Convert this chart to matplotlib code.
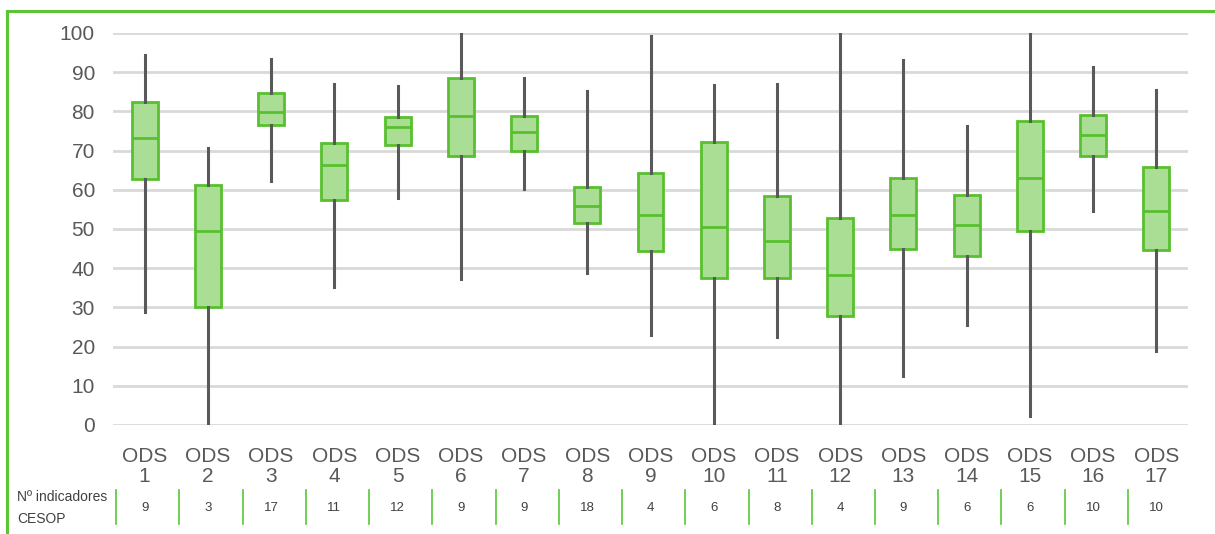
import matplotlib
matplotlib.use("Agg")
import matplotlib.pyplot as plt
from matplotlib.transforms import blended_transform_factory
from matplotlib.lines import Line2D

categories = ["ODS\n1", "ODS\n2", "ODS\n3", "ODS\n4", "ODS\n5", "ODS\n6", "ODS\n7", "ODS\n8", "ODS\n9",
              "ODS\n10", "ODS\n11", "ODS\n12", "ODS\n13", "ODS\n14", "ODS\n15", "ODS\n16", "ODS\n17"]
whisker_low = [28.7, 0.5, 62.3, 35.2, 58.0, 37.3, 60.1, 38.9, 22.9, 0.3, 22.5, 0.3, 12.4, 25.5, 2.3, 54.5, 18.9]
q1 = [62.8, 30.2, 76.5, 57.5, 71.5, 68.6, 69.8, 51.6, 44.4, 37.6, 37.6, 27.7, 44.9, 43.0, 49.6, 68.5, 44.7]
median = [73.3, 49.4, 79.8, 66.2, 75.9, 78.8, 74.7, 55.8, 53.5, 50.5, 47.0, 38.2, 53.6, 50.9, 63.0, 74.1, 54.5]
q3 = [82.5, 61.2, 84.7, 71.9, 78.5, 88.5, 78.7, 60.7, 64.3, 72.1, 58.5, 52.8, 63.0, 58.8, 77.5, 79.0, 65.7]
whisker_high = [94.4, 70.6, 93.4, 86.9, 86.5, 99.8, 88.4, 85.1, 99.2, 86.7, 87.1, 99.8, 93.0, 76.3, 99.8, 91.3, 85.5]
n_indicators = [9, 3, 17, 11, 12, 9, 9, 18, 4, 6, 8, 4, 9, 6, 6, 10, 10]
yticks = [0, 10, 20, 30, 40, 50, 60, 70, 80, 90, 100]
row_label = "Nº indicadores\nCESOP"

W, H = 1215, 534
fig = plt.figure(figsize=(W / 100, H / 100), dpi=100)
plt.rcParams['font.family'] = ['Liberation Sans', 'DejaVu Sans']

ax = fig.add_axes([113 / W, 1 - 425 / H, 1075 / W, (425 - 33) / H])

stats = []
for i in range(len(categories)):
    stats.append(dict(whislo=whisker_low[i], q1=q1[i], med=median[i], q3=q3[i],
                      whishi=whisker_high[i], fliers=[], label=categories[i]))

edge = "#58C02E"
fill = "#A9DE94"
ax.bxp(stats, positions=list(range(len(categories))), widths=0.41, patch_artist=True,
       showcaps=False, showfliers=False,
       boxprops=dict(facecolor=fill, edgecolor=edge, linewidth=2.0),
       medianprops=dict(color=edge, linewidth=2.0),
       whiskerprops=dict(color="#595959", linewidth=2.2))

ax.set_xlim(-0.5, len(categories) - 0.5)
ax.set_ylim(0, 100)
ax.set_yticks(yticks)
ax.set_yticklabels([str(t) for t in yticks])
ax.grid(axis="y", color="#D9D9D9", linewidth=2.0)
ax.set_axisbelow(True)
for s in ax.spines.values():
    s.set_visible(False)
ax.tick_params(axis="both", length=0, labelsize=15, labelcolor="#595959")
ax.tick_params(axis="y", pad=13)
ax.tick_params(axis="x", pad=16)
ax.set_xticks(list(range(len(categories))))
ax.set_xticklabels(categories, linespacing=1.05)

# indicator row
trans = blended_transform_factory(ax.transData, fig.transFigure)
for i, n in enumerate(n_indicators):
    ax.text(i, 1 - 508 / H, str(n), transform=trans, ha="center", va="center",
            fontsize=9.5, color="#404040", clip_on=False)
    ax.add_line(Line2D([i - 0.45, i - 0.45], [1 - 490 / H, 1 - 524 / H], transform=trans,
                       color="#66CC44", linewidth=1.3, clip_on=False))
fig.text(17 / W, 1 - 508 / H, row_label, ha="left", va="center", fontsize=10,
         color="#404040", linespacing=1.65)

# frame
fig.add_artist(Line2D([7 / W, 1.0], [1 - 11 / H, 1 - 11 / H], transform=fig.transFigure,
                      color="#5CC536", linewidth=2.2))
fig.add_artist(Line2D([7 / W, 7 / W], [1 - 11 / H, 0.0], transform=fig.transFigure,
                      color="#5CC536", linewidth=2.2))

fig.savefig("out.png", dpi=100)
